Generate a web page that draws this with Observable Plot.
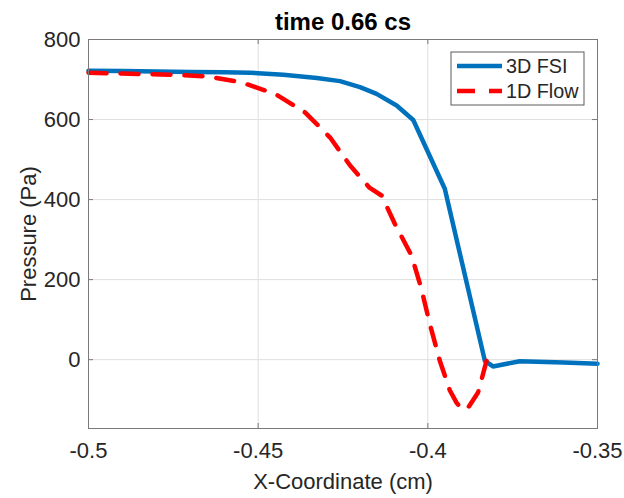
<!DOCTYPE html>
<html>
<head>
<meta charset="utf-8">
<script src="https://cdn.jsdelivr.net/npm/d3@7"></script>
<script src="https://cdn.jsdelivr.net/npm/@observablehq/plot@0.6"></script>
<style>
  html, body { margin: 0; padding: 0; background: #fff; }
  svg { display: block; }
</style>
</head>
<body>
<div id="chart"></div>
<script>
// Pressure along the vessel axis at t = 0.66 cs
const fsiX = [-0.5, -0.49, -0.48, -0.47, -0.46, -0.4524, -0.4426, -0.4327, -0.4259, -0.42, -0.4151, -0.4092, -0.4043, -0.395, -0.3832, -0.3808, -0.3729, -0.36, -0.35];
const fsiP = [722, 721, 720, 719, 718, 717, 712, 704, 696, 681, 664, 635, 599, 427, -3, -17, -4, -7, -10];

const flowX = [-0.5, -0.4759, -0.4656, -0.4553, -0.445, -0.4362, -0.4288, -0.4229, -0.4171, -0.4136, -0.4097, -0.4048, -0.4019, -0.3994, -0.3965, -0.3935, -0.3915, -0.39, -0.3882, -0.3852, -0.3827];
const flowP = [717, 712, 708, 694, 664, 618, 555, 485, 429, 410, 339, 260, 177, 89, -2, -77, -108, -124, -121, -82, -3];

const xTicks = [-0.5, -0.45, -0.4, -0.35];
const yTicks = [0, 200, 400, 600, 800];
const seriesNames = ["3D FSI", "1D Flow"];
const titleText = "time 0.66 cs";
const xLabel = "X-Coordinate (cm)";
const yLabel = "Pressure (Pa)";

const fsi = fsiX.map((x, i) => ({x, p: fsiP[i]}));
const flow = flowX.map((x, i) => ({x, p: flowP[i]}));

const W = 624, H = 498;
const mL = 88, mR = 27, mT = 39, mB = 70;
const plotW = W - mL - mR, plotH = H - mT - mB;
const font = "'Liberation Sans', Arial, Helvetica, sans-serif";
const axisColor = "#7a7a7a";
const textColor = "#262626";
const blue = "#0072BD", red = "#FF0000";
const tickLen = 5;

const chart = Plot.plot({
  width: W, height: H,
  marginLeft: mL, marginRight: mR, marginTop: mT, marginBottom: mB,
  style: {fontFamily: font, fontSize: "22px", color: textColor, background: "#fff"},
  x: {domain: [-0.5, -0.35], label: null},
  y: {domain: [-172, 800], label: null},
  marks: [
    Plot.gridX(xTicks, {stroke: "#dfdfdf", strokeOpacity: 1}),
    Plot.gridY(yTicks, {stroke: "#dfdfdf", strokeOpacity: 1}),
    Plot.line(fsi, {x: "x", y: "p", stroke: blue, strokeWidth: 4.5, strokeLinejoin: "round"}),
    Plot.line(flow, {x: "x", y: "p", stroke: red, strokeWidth: 4.5, strokeLinejoin: "round", strokeDasharray: "18,14"}),
    Plot.frame({stroke: axisColor, strokeWidth: 1}),
    // inward tick marks on all four sides
    Plot.tickX(xTicks, {x: d => d, stroke: axisColor, insetTop: plotH - tickLen}),
    Plot.tickX(xTicks, {x: d => d, stroke: axisColor, insetBottom: plotH - tickLen}),
    Plot.tickY(yTicks, {y: d => d, stroke: axisColor, insetRight: plotW - tickLen}),
    Plot.tickY(yTicks, {y: d => d, stroke: axisColor, insetLeft: plotW - tickLen}),
    Plot.axisX(xTicks, {tickSize: 0, tickPadding: 14, fontSize: 22, label: null, fill: textColor, tickFormat: d => String(d)}),
    Plot.axisY(yTicks, {tickSize: 0, tickPadding: 8, fontSize: 22, label: null, fill: textColor, tickFormat: d => String(d)}),
    Plot.text([xLabel], {frameAnchor: "bottom", lineAnchor: "middle", textAnchor: "middle", dy: 53, text: d => d, fontSize: 22, fill: textColor}),
    Plot.text([yLabel], {frameAnchor: "left", lineAnchor: "middle", textAnchor: "middle", dx: -60, rotate: -90, text: d => d, fontSize: 22, fill: textColor}),
    Plot.text([titleText], {frameAnchor: "top", lineAnchor: "middle", textAnchor: "middle", dy: -17, text: d => d, fontSize: 24, fontWeight: "bold", fill: "#000"})
  ]
});

// Legend box in the upper right corner of the axes
const svg = d3.select(chart);
const lg = svg.append("g").attr("font-family", font).attr("font-size", 19.8).attr("text-anchor", "start");
lg.append("rect").attr("x", 451).attr("y", 52).attr("width", 133).attr("height", 53)
  .attr("fill", "#fff").attr("stroke", "#5a5a5a").attr("stroke-width", 1);
const rows = [
  {name: seriesNames[0], color: blue, dash: null, y: 66},
  {name: seriesNames[1], color: red, dash: "18,14", y: 91}
];
rows.forEach(r => {
  lg.append("line").attr("x1", 457).attr("x2", 502).attr("y1", r.y).attr("y2", r.y)
    .attr("stroke", r.color).attr("stroke-width", 4.5)
    .attr("stroke-dasharray", r.dash);
  lg.append("text").attr("x", 506).attr("y", r.y).attr("dy", "0.35em")
    .attr("text-anchor", "start").attr("fill", textColor).text(r.name);
});

document.getElementById("chart").appendChild(chart);
</script>
</body>
</html>
